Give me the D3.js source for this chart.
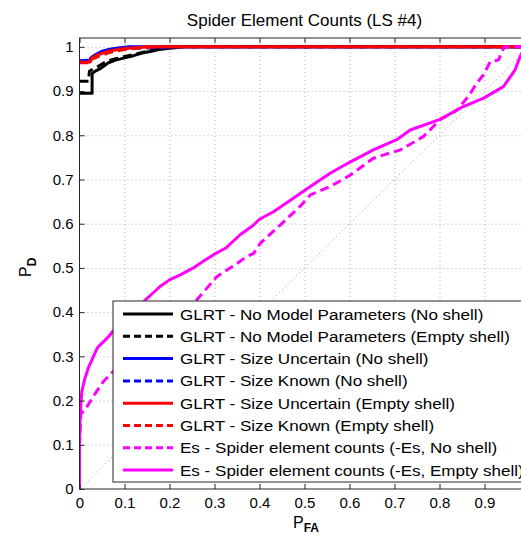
<!DOCTYPE html>
<html><head><meta charset="utf-8">
<script src="https://cdn.jsdelivr.net/npm/d3@7"></script>
<style>body{margin:0;background:#fff}svg{display:block}</style>
</head><body>
<svg id="c" width="521" height="537"></svg>
<script>
// ---- data ----
const xTicks = [0,0.1,0.2,0.3,0.4,0.5,0.6,0.7,0.8,0.9];
const xTickLabels = ["0","0.1","0.2","0.3","0.4","0.5","0.6","0.7","0.8","0.9"];
const yTicks = [0,0.1,0.2,0.3,0.4,0.5,0.6,0.7,0.8,0.9,1];
const yTickLabels = ["0","0.1","0.2","0.3","0.4","0.5","0.6","0.7","0.8","0.9","1"];

const glrtNoModelNoShell = [[0,0.895],[0.028,0.895],[0.028,0.94],[0.035,0.945],[0.045,0.95],[0.064,0.964],[0.08,0.97],[0.1,0.975],[0.12,0.98],[0.139,0.986],[0.16,0.99],[0.176,0.994],[0.2,0.997],[0.213,0.998],[0.23,1],[1,1]];
const glrtNoModelEmpty = [[0,0.922],[0.02,0.922],[0.022,0.945],[0.03,0.95],[0.04,0.955],[0.06,0.967],[0.08,0.973],[0.1,0.978],[0.13,0.985],[0.16,0.992],[0.19,0.997],[0.21,1],[1,1]];
const glrtSizeUncNoShell = [[0,0.968],[0.022,0.968],[0.025,0.975],[0.035,0.982],[0.05,0.99],[0.07,0.995],[0.09,0.998],[0.11,1],[1,1]];
const glrtSizeKnownNoShell = [[0,0.968],[0.024,0.97],[0.03,0.978],[0.05,0.988],[0.07,0.993],[0.1,0.997],[0.2,0.998],[0.22,1],[1,1]];
const glrtSizeUncEmpty = [[0,0.966],[0.024,0.966],[0.028,0.975],[0.04,0.982],[0.064,0.99],[0.09,0.995],[0.124,0.998],[0.15,1],[1,1]];
const glrtSizeKnownEmpty = [[0,0.964],[0.024,0.964],[0.028,0.972],[0.045,0.98],[0.07,0.988],[0.1,0.994],[0.14,0.998],[0.17,1],[1,1]];
const esNoShell = [[0,0],[0,0.1],[0.002,0.15],[0.003,0.17],[0.013,0.18],[0.031,0.21],[0.053,0.243],[0.079,0.27],[0.1,0.29],[0.13,0.32],[0.16,0.35],[0.2,0.38],[0.23,0.40],[0.26,0.427],[0.305,0.48],[0.35,0.51],[0.37,0.525],[0.387,0.533],[0.402,0.556],[0.446,0.597],[0.49,0.639],[0.513,0.665],[0.557,0.684],[0.602,0.71],[0.653,0.748],[0.668,0.753],[0.713,0.767],[0.764,0.797],[0.801,0.835],[0.839,0.857],[0.864,0.888],[0.883,0.918],[0.898,0.937],[0.913,0.967],[0.931,0.97],[0.939,0.99],[0.945,1.0],[1,1]];
const esEmptyShell = [[0,0],[0,0.1],[0.001,0.15],[0.003,0.19],[0.005,0.22],[0.012,0.25],[0.02,0.275],[0.031,0.30],[0.04,0.32],[0.05,0.33],[0.065,0.345],[0.079,0.363],[0.1,0.38],[0.12,0.40],[0.146,0.427],[0.165,0.445],[0.179,0.458],[0.2,0.473],[0.225,0.485],[0.253,0.5],[0.275,0.515],[0.298,0.53],[0.325,0.545],[0.357,0.575],[0.387,0.597],[0.40,0.61],[0.431,0.627],[0.476,0.658],[0.513,0.684],[0.557,0.714],[0.602,0.74],[0.653,0.767],[0.668,0.774],[0.705,0.79],[0.735,0.812],[0.801,0.836],[0.853,0.865],[0.898,0.884],[0.942,0.91],[0.968,0.948],[0.979,0.978],[0.99,1.0],[1,1]];

const seriesNames = [
 "GLRT - No Model Parameters (No shell)",
 "GLRT - No Model Parameters (Empty shell)",
 "GLRT - Size Uncertain (No shell)",
 "GLRT - Size Known (No shell)",
 "GLRT - Size Uncertain (Empty shell)",
 "GLRT - Size Known (Empty shell)",
 "Es - Spider element counts (-Es, No shell)",
 "Es - Spider element counts (-Es, Empty shell)"
];
const seriesData = [glrtNoModelNoShell, glrtNoModelEmpty, glrtSizeUncNoShell, glrtSizeKnownNoShell, glrtSizeUncEmpty, glrtSizeKnownEmpty, esNoShell, esEmptyShell];
const seriesColors = ["#000000","#000000","#0000ff","#0000ff","#ff0000","#ff0000","#ff00ff","#ff00ff"];
const seriesDashed = [false,true,false,true,false,true,true,false];

// ---- layout ----
const svg = d3.select("#c");
const FONT = "'Liberation Sans', Arial, Helvetica, sans-serif";
const L = 79.5, R = 529.5, T = 38, B = 489;
const x = d3.scaleLinear().domain([0,1]).range([L,R]);
const y = d3.scaleLinear().domain([0,1.02]).range([B,T]);

svg.append("defs").append("clipPath").attr("id","plotclip")
  .append("rect").attr("x",L).attr("y",T).attr("width",R-L).attr("height",B-T);

// grid
const gx = svg.append("g").attr("transform",`translate(0,${B})`)
  .call(d3.axisBottom(x).tickValues(xTicks.slice(1)).tickSize(-(B-T)).tickFormat(""));
gx.select(".domain").remove();
gx.selectAll("line").attr("stroke","#b0b0b0").attr("stroke-dasharray","1,3");
const gy = svg.append("g").attr("transform",`translate(${L},0)`)
  .call(d3.axisLeft(y).tickValues(yTicks.slice(1)).tickSize(-(R-L)).tickFormat(""));
gy.select(".domain").remove();
gy.selectAll("line").attr("stroke","#b0b0b0").attr("stroke-dasharray","1,3");

// diagonal chance line
svg.append("path").attr("clip-path","url(#plotclip)")
  .attr("d", d3.line().x(d=>x(d[0])).y(d=>y(d[1]))([[0,0],[1,1]]))
  .attr("fill","none").attr("stroke","#999").attr("stroke-width",1).attr("stroke-dasharray","1,3");

// curves
const line = d3.line().x(d=>x(d[0])).y(d=>y(d[1]));
const gc = svg.append("g").attr("clip-path","url(#plotclip)");
seriesData.forEach((s,i)=>{
  gc.append("path").attr("d",line(s)).attr("fill","none")
    .attr("stroke",seriesColors[i]).attr("stroke-width",3)
    .attr("stroke-linejoin","round")
    .attr("stroke-dasharray",seriesDashed[i]?"9,5":null);
});

// frame
svg.append("rect").attr("x",L).attr("y",T).attr("width",R-L).attr("height",B-T)
  .attr("fill","none").attr("stroke","#262626").attr("stroke-width",1);

// axes with inward ticks
const ax = svg.append("g").attr("transform",`translate(0,${B})`)
  .call(d3.axisBottom(x).tickValues(xTicks).tickSizeInner(-5).tickSizeOuter(0).tickPadding(8)
        .tickFormat((d,i)=>xTickLabels[i]));
ax.select(".domain").remove();
ax.selectAll("line").attr("stroke","#262626");
ax.selectAll("text").attr("font-family",FONT).attr("font-size",15).attr("fill","#000");
const axTop = svg.append("g").attr("transform",`translate(0,${T})`)
  .call(d3.axisTop(x).tickValues(xTicks).tickSizeInner(-5).tickSizeOuter(0).tickFormat(""));
axTop.select(".domain").remove();
axTop.selectAll("line").attr("stroke","#262626");
const ay = svg.append("g").attr("transform",`translate(${L},0)`)
  .call(d3.axisLeft(y).tickValues(yTicks).tickSizeInner(-5).tickSizeOuter(0).tickPadding(6)
        .tickFormat((d,i)=>yTickLabels[i]));
ay.select(".domain").remove();
ay.selectAll("line").attr("stroke","#262626");
ay.selectAll("text").attr("font-family",FONT).attr("font-size",15).attr("fill","#000");

// title
svg.append("text").attr("x",(L+R)/2).attr("y",26).attr("text-anchor","middle")
  .attr("font-family",FONT).attr("font-size",17).attr("fill","#000")
  .text("Spider Element Counts (LS #4)");

// x label
const xl = svg.append("text").attr("x",293).attr("y",528)
  .attr("font-family",FONT).attr("font-size",16).attr("fill","#000");
xl.append("tspan").text("P");
xl.append("tspan").attr("dy",4).attr("font-size",12).attr("font-weight","bold").text("FA");

// y label
const yl = svg.append("text").attr("transform","translate(31,277) rotate(-90)")
  .attr("font-family",FONT).attr("font-size",16).attr("fill","#000");
yl.append("tspan").text("P");
yl.append("tspan").attr("dy",5).attr("font-size",12).attr("font-weight","bold").text("D");

// legend
const lg = svg.append("g");
lg.append("rect").attr("x",113).attr("y",301).attr("width",430).attr("height",181)
  .attr("fill","#fff").attr("stroke","#262626").attr("stroke-width",1);
seriesNames.forEach((n,i)=>{
  const cy = 314 + 22.3*i;
  lg.append("line").attr("x1",123).attr("x2",173).attr("y1",cy).attr("y2",cy)
    .attr("stroke",seriesColors[i]).attr("stroke-width",3)
    .attr("stroke-dasharray",seriesDashed[i]?"7,4":null);
  lg.append("text").attr("transform",`translate(180,${cy+5.5}) scale(1.1,1)`)
    .attr("font-family",FONT).attr("font-size",15.5).attr("fill","#000").text(n);
});
</script>
</body></html>
